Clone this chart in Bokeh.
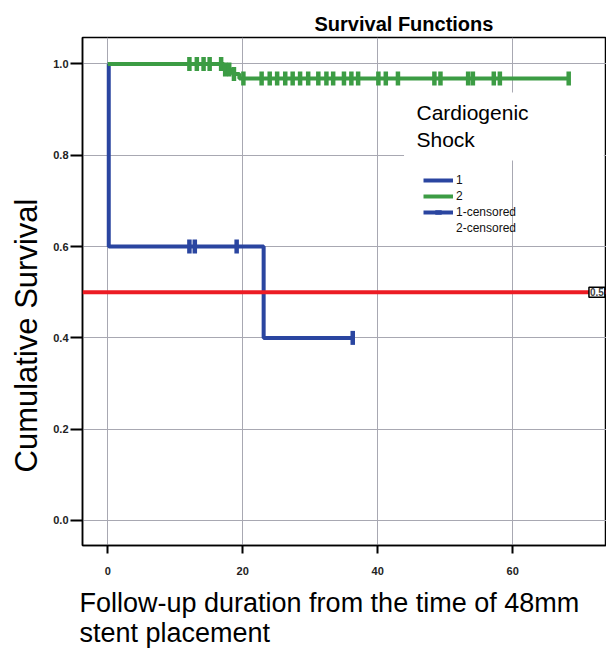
import numpy as np
from bokeh.plotting import figure
from bokeh.models import (Range1d, Span, Label, BoxAnnotation, Legend, LegendItem,
                          FixedTicker, NumeralTickFormatter, Title)
from bokeh.embed import file_html
from bokeh.resources import INLINE

# ---------------- data ----------------
title_text = "Survival Functions"
legend_title = ["Cardiogenic", "Shock"]
x_label_text = "Follow-up duration from the time of 48mm\nstent placement"
y_label = "Cumulative Survival"

# group 1 (blue)
blue_times = [0.0, 0.15, 23.1]
blue_surv = [1.0, 0.6, 0.4]
blue_last = 36.3
blue_censor = [12.1, 12.9, 19.1, 36.3]

# group 2 (green)
green_times = [0.0, 17.2, 18.5, 19.5]
green_surv = [1.0, 0.988, 0.978, 0.968]
green_last = 68.4
green_censor = [12.1, 13.2, 14.2, 15.1, 16.8, 17.4, 18.0, 18.7, 20.1,
                22.8, 24.0, 25.1, 26.3, 27.4, 28.5, 29.7, 31.2, 32.4, 33.4,
                35.0, 36.1, 37.1, 40.1, 41.2, 43.0, 48.4, 49.3, 53.4, 54.1,
                57.2, 58.1, 68.3]

ref_value = 0.5
x_ticks = [0, 20, 40, 60]
y_ticks = [0.0, 0.2, 0.4, 0.6, 0.8, 1.0]

BLUE = "#2a45a0"
GREEN = "#3c9c44"
RED = "#ec1c24"
FONT = "Liberation Sans"

W, H = 606, 648

p = figure(width=W, height=H, output_backend="svg", toolbar_location=None,
           x_range=Range1d(-3.74, 73.9), y_range=Range1d(-0.0548, 1.058),
           min_border_left=81, min_border_right=0, min_border_top=37,
           min_border_bottom=103, title=None)
p.background_fill_color = "white"
p.border_fill_color = "white"
p.outline_line_color = "black"
p.outline_line_width = 1.5

# axes
for ax in (p.xaxis[0], p.yaxis[0]):
    ax.axis_line_color = "black"
    ax.axis_line_width = 1.5
    ax.major_tick_line_color = "black"
    ax.major_tick_line_width = 2
    ax.major_tick_in = 0
    ax.minor_tick_line_color = None
    ax.major_label_text_font = FONT
    ax.major_label_text_font_style = "bold"
    ax.major_label_text_font_size = "11px"
    ax.major_label_text_color = "#222222"

p.xaxis.ticker = FixedTicker(ticks=x_ticks)
p.yaxis.ticker = FixedTicker(ticks=y_ticks)
p.yaxis.formatter = NumeralTickFormatter(format="0.0")
p.xaxis.major_tick_out = 8
p.xaxis.major_label_standoff = 13
p.yaxis.major_tick_out = 12
p.yaxis.major_label_standoff = 2
# small invisible spacer between tick labels and the x title
p.xaxis.axis_label = " "
p.xaxis.axis_label_text_font_size = "1px"
p.xaxis.axis_label_standoff = 5

p.xgrid.ticker = FixedTicker(ticks=x_ticks)
p.ygrid.ticker = FixedTicker(ticks=y_ticks)
for g in (p.xgrid[0], p.ygrid[0]):
    g.grid_line_color = "#a8a8b2"
    g.grid_line_width = 1

# titles outside the frame
p.add_layout(Title(text=title_text, align="left", offset=232, standoff=6,
                   text_font=FONT, text_font_size="20px", text_font_style="bold",
                   text_color="black"), "above")
p.add_layout(Title(text=x_label_text, align="left", offset=-3, standoff=0,
                   text_font=FONT, text_font_size="27px", text_font_style="normal",
                   text_line_height=1.01, text_color="black"), "below")
p.add_layout(Title(text=y_label, align="left", offset=73, standoff=13,
                   text_font=FONT, text_font_size="31px", text_font_style="normal",
                   text_color="black"), "left")

# step helpers
def step_xy(times, surv, last):
    return list(times) + [last], list(surv) + [surv[-1]]

def surv_at(times, surv, ts):
    idx = np.searchsorted(np.array(times), np.array(ts), side="right") - 1
    return [surv[i] for i in idx]

bx, by = step_xy(blue_times, blue_surv, blue_last)
gx, gy = step_xy(green_times, green_surv, green_last)

r_blue = p.step(bx, by, mode="after", line_color=BLUE, line_width=4)
r_green = p.step(gx, gy, mode="after", line_color=GREEN, line_width=4)

r_bc = p.scatter(blue_censor, surv_at(blue_times, blue_surv, blue_censor),
                 marker="dash", angle=np.pi / 2, size=14,
                 line_color=BLUE, line_width=4.5)
r_gc = p.scatter(green_censor, surv_at(green_times, green_surv, green_censor),
                 marker="dash", angle=np.pi / 2, size=14,
                 line_color=GREEN, line_width=4.5)
# legend-only helper (no data)
r_dummy = p.scatter([], [], marker="dash", line_alpha=0, fill_alpha=0)

# reference line
p.add_layout(Span(location=ref_value, dimension="width", line_color=RED,
                  line_width=4))
p.add_layout(Label(x=71.3, y=ref_value, text=f"{ref_value:g}",
                   text_font=FONT, text_font_size="10px", text_font_style="bold",
                   text_baseline="middle", text_align="left",
                   border_line_color="black", border_line_width=1.5,
                   background_fill_color="white", padding=1))

# white box behind legend title
p.add_layout(BoxAnnotation(left=43.9, right=73.5, top=0.9376, bottom=0.7886,
                           fill_color="white", fill_alpha=1.0, line_alpha=0))

legend = Legend(items=[
    LegendItem(label="1", renderers=[r_blue]),
    LegendItem(label="2", renderers=[r_green]),
    LegendItem(label="1-censored", renderers=[r_blue, r_bc]),
    LegendItem(label="2-censored", renderers=[r_dummy]),
], location=(341, 309))
legend.background_fill_alpha = 0
legend.border_line_color = None
legend.padding = 0
legend.margin = 0
legend.spacing = 0
legend.glyph_width = 30
legend.glyph_height = 16
legend.label_height = 16
legend.label_standoff = 3
legend.label_text_font = FONT
legend.label_text_font_size = "12px"
legend.label_text_color = "#111111"
p.add_layout(legend)

# legend title lines (inside the frame)
for i, t in enumerate(legend_title):
    p.add_layout(Label(x=416, y=112 + 27 * i, x_units="canvas", y_units="canvas",
                       text=t, text_font=FONT, text_font_size="21px",
                       text_color="black", text_baseline="alphabetic"))

open("out.html", "w").write(file_html(p, INLINE))
